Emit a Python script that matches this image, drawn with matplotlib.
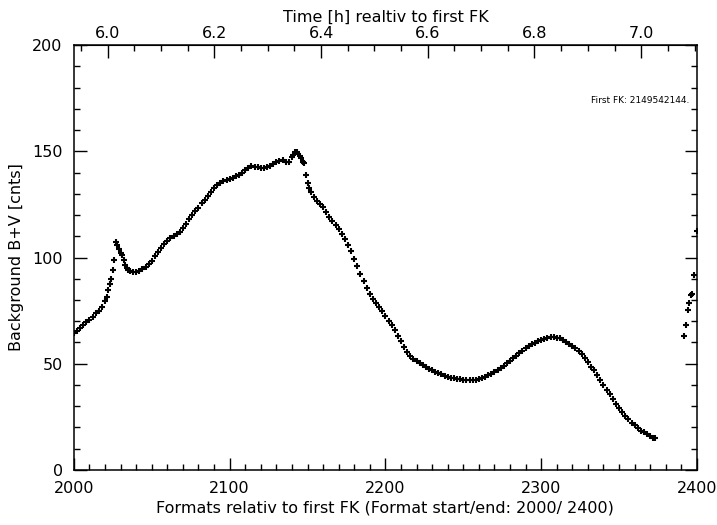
import matplotlib
matplotlib.use("Agg")
import matplotlib.pyplot as plt
from matplotlib.ticker import MultipleLocator, FixedLocator, FormatStrFormatter

# Background B+V counts per format
formats = [2000, 2002, 2004, 2006, 2008, 2010, 2012, 2014, 2016, 2018,
           2020, 2021, 2022, 2023, 2024, 2025, 2026, 2027, 2028, 2029,
           2030, 2031, 2032, 2033, 2034, 2035, 2036, 2038, 2040, 2042,
           2044, 2046, 2048, 2050, 2052, 2054, 2056, 2058, 2060, 2062,
           2064, 2066, 2068, 2070, 2072, 2074, 2076, 2078, 2080, 2082,
           2084, 2086, 2088, 2090, 2092, 2094, 2096, 2098, 2100, 2102,
           2104, 2106, 2108, 2110, 2112, 2114, 2116, 2118, 2120, 2122,
           2124, 2126, 2128, 2130, 2132, 2134, 2136, 2138, 2140, 2141,
           2142, 2143, 2144, 2145, 2146, 2147, 2148, 2149, 2150, 2151,
           2152, 2154, 2156, 2158, 2160, 2162, 2164, 2166, 2168, 2170,
           2172, 2174, 2176, 2178, 2180, 2182, 2184, 2186, 2188, 2190,
           2192, 2194, 2196, 2198, 2200, 2202, 2204, 2206, 2208, 2210,
           2212, 2214, 2216, 2218, 2220, 2222, 2224, 2226, 2228, 2230,
           2232, 2234, 2236, 2238, 2240, 2242, 2244, 2246, 2248, 2250,
           2252, 2254, 2256, 2258, 2260, 2262, 2264, 2266, 2268, 2270,
           2272, 2274, 2276, 2278, 2280, 2282, 2284, 2286, 2288, 2290,
           2292, 2294, 2296, 2298, 2300, 2302, 2304, 2306, 2308, 2310,
           2312, 2314, 2316, 2318, 2320, 2322, 2324, 2326, 2328, 2330,
           2332, 2334, 2336, 2338, 2340, 2342, 2344, 2346, 2348, 2350,
           2352, 2354, 2356, 2358, 2360, 2362, 2364, 2366, 2368, 2370,
           2372, 2373,
           2392, 2393, 2394, 2395, 2396, 2397, 2398, 2400]
background = [64.5, 65.5, 66.8, 68.2, 69.5, 70.8, 72.0, 73.8, 75.0, 76.5,
              79.5, 81.5, 84.5, 87.5, 90.0, 94.0, 99.0, 107.2, 106.0, 104.0,
              102.0, 101.0, 99.0, 96.5, 95.0, 94.0, 93.6, 93.0, 93.2, 93.8,
              94.5, 95.5, 97.0, 98.5, 100.5, 102.5, 104.5, 106.5, 108.0, 109.3,
              110.2, 111.0, 112.2, 114.0, 116.0, 118.0, 119.8, 121.7, 123.5, 125.5,
              127.0, 128.8, 131.0, 132.5, 134.0, 135.0, 136.0, 136.6, 137.2, 137.6,
              138.2, 138.8, 140.0, 141.0, 142.0, 143.0, 142.8, 142.5, 142.2, 142.0,
              142.6, 143.2, 144.0, 144.8, 145.5, 145.7, 145.2, 144.8, 147.2, 148.5,
              149.6, 149.8, 148.8, 147.8, 146.7, 145.0, 144.3, 139.0, 135.3, 132.5,
              131.0, 128.3, 126.6, 125.2, 123.6, 121.6, 119.0, 117.0, 115.5, 113.6,
              111.3, 108.7, 105.9, 103.1, 99.3, 95.8, 92.3, 88.8, 85.8, 83.0,
              80.5, 78.5, 76.5, 74.7, 72.5, 70.2, 68.2, 65.8, 63.0, 60.6,
              57.8, 55.7, 53.5, 52.4, 51.2, 50.2, 49.3, 48.4, 47.6, 46.9,
              46.2, 45.6, 45.0, 44.4, 43.9, 43.4, 43.1, 42.8, 42.6, 42.5,
              42.3, 42.1, 42.3, 42.5, 42.8, 43.2, 43.9, 44.6, 45.2, 46.0,
              46.9, 47.8, 49.0, 50.2, 51.3, 52.5, 53.7, 54.9, 56.0, 57.2,
              58.2, 59.1, 59.9, 60.6, 61.2, 61.8, 62.2, 62.4, 62.5, 62.3,
              61.9, 61.2, 60.3, 59.5, 58.5, 57.4, 56.0, 54.4, 52.6, 50.6,
              48.6, 47.0, 44.8, 42.5, 40.2, 37.8, 35.5, 33.3, 31.2, 29.1,
              27.2, 25.4, 23.8, 22.3, 20.9, 19.6, 18.5, 17.6, 16.7, 15.8,
              15.2, 14.8,
              63.0, 68.0, 75.5, 78.5, 82.5, 83.0, 92.0, 112.5]

first_fk = "2149542144."
x_range = (2000, 2400)
y_range = (0, 200)
hour_ticks = [6.0, 6.2, 6.4, 6.6, 6.8, 7.0]
hour_minor = [5.95, 6.05, 6.1, 6.15, 6.25, 6.3, 6.35, 6.45, 6.5, 6.55,
              6.65, 6.7, 6.75, 6.85, 6.9, 6.95, 7.05, 7.1]

# format number <-> hours since first FK
t0 = 5.9366
formats_per_hour = 342.5


def f2t(f):
    return t0 + (f - 2000.0) / formats_per_hour


def t2f(t):
    return 2000.0 + (t - t0) * formats_per_hour


plt.rcParams['font.family'] = ['DejaVu Sans']
fig = plt.figure(figsize=(7.17, 5.25), dpi=100)
ax = fig.add_axes([0.103, 0.105, 0.869, 0.809])

ax.plot(formats, background, linestyle='none', marker='+', color='k',
        markersize=4.2, markeredgewidth=1.5)

ax.set_xlim(*x_range)
ax.set_ylim(*y_range)
ax.xaxis.set_major_locator(MultipleLocator(100))
ax.xaxis.set_minor_locator(MultipleLocator(10))
ax.yaxis.set_major_locator(MultipleLocator(50))
ax.yaxis.set_minor_locator(MultipleLocator(10))
ax.tick_params(which='both', direction='in', right=True, top=False,
               labelsize=11.5, width=1.0, pad=8)
ax.tick_params(which='major', length=9)
ax.tick_params(which='minor', length=4.5)
for s in ax.spines.values():
    s.set_linewidth(1.1)

ax.set_xlabel("Formats relativ to first FK (Format start/end: 2000/ 2400)",
              fontsize=11.5, labelpad=3)
ax.set_ylabel("Background B+V [cnts]", fontsize=11.5, labelpad=6)

top = ax.secondary_xaxis('top', functions=(f2t, t2f))
top.xaxis.set_major_locator(FixedLocator(hour_ticks))
top.xaxis.set_minor_locator(FixedLocator(hour_minor))
top.xaxis.set_major_formatter(FormatStrFormatter('%.1f'))
top.tick_params(which='both', direction='in', labelsize=11.5, width=1.0, pad=3)
top.tick_params(which='major', length=9)
top.tick_params(which='minor', length=4.5)
top.set_xlabel("Time [h] realtiv to first FK", fontsize=11.5, labelpad=3)

ax.text(2395, 174, "First FK: " + first_fk, fontsize=6.5, ha='right', va='center')

fig.savefig("out.png", dpi=100)
